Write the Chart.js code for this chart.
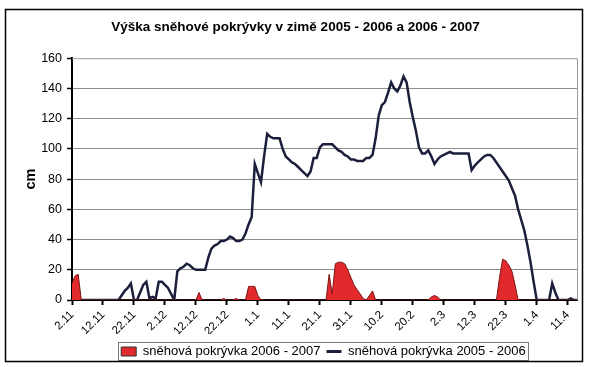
<!DOCTYPE html>
<html>
<head>
<meta charset="utf-8">
<script src="https://cdn.jsdelivr.net/npm/chart.js@4/dist/chart.umd.min.js"></script>
<style>
  body { margin: 0; background: #fff; }
</style>
</head>
<body>
<canvas id="myChart" width="590" height="367"></canvas>
<script>
// tick labels every 10 days, starting 2.11
var tickLabels = ['2.11', '12.11', '22.11', '2.12', '12.12', '22.12', '1.1', '11.1', '21.1',
  '31.1', '10.2', '20.2', '2.3', '12.3', '22.3', '1.4', '11.4'];

var seriesNames = ['sněhová pokrývka 2006 - 2007', 'sněhová pokrývka 2005 - 2006'];

// snow depth in cm, one value per day from 2.11
var snow0506 = [
  0, 0, 0, 0, 0, 0, 0, 0, 0, 0,
  0, 0, 0, 0, 0, 0, 3, 6, 8, 11,
  0, 0, 5, 10, 12, 1, 2, 1, 12, 12,
  10, 8, 4, 0, 19, 21, 22, 24, 23, 21,
  20, 20, 20, 20, 28, 34, 36, 37, 39, 39,
  40, 42, 41, 39, 39, 40, 44, 50, 55, 90,
  84, 78, 95, 110, 108, 107, 107, 107, 100, 95,
  93, 91, 90, 88, 86, 84, 82, 85, 94, 94,
  101, 103, 103, 103, 103, 101, 99, 98, 96, 95,
  93, 93, 92, 92, 92, 94, 94, 96, 107, 122,
  129, 131, 137, 144, 140, 138, 142, 148, 144, 131,
  121, 112, 101, 97, 97, 99, 95, 90, 93, 95,
  96, 97, 98, 97, 97, 97, 97, 97, 97, 86,
  89, 91, 93, 95, 96, 96, 94, 91, 88, 85,
  82, 79, 74, 69, 60, 53, 46, 36, 25, 12,
  0, 0, 0, 0, 0, 11, 5, 0, 0, 0,
  0, 1, 0, 0
];

var snow0607 = [
  11, 16, 17, 0, 0, 0, 0, 0, 0, 0,
  0, 0, 0, 0, 0, 0, 0, 0, 0, 0,
  0, 0, 0, 0, 0, 0, 0, 0, 0, 0,
  0, 0, 0, 0, 0, 0, 0, 0, 0, 0,
  0, 5, 0, 0, 0, 0, 0, 0, 0, 1,
  0, 0, 0, 1, 0, 0, 0, 9, 9, 9,
  3, 0, 0, 0, 0, 0, 0, 0, 0, 0,
  0, 0, 0, 0, 0, 0, 0, 0, 0, 0,
  0, 0, 0, 17, 4, 24, 25, 25, 24, 20,
  15, 10, 7, 4, 1, 0, 3, 6, 0, 0,
  0, 0, 0, 0, 0, 0, 0, 0, 0, 0,
  0, 0, 0, 0, 0, 0, 2, 3, 2, 0,
  0, 0, 0, 0, 0, 0, 0, 0, 0, 0,
  0, 0, 0, 0, 0, 0, 0, 0, 15, 27,
  26, 23, 19, 10, 0, 0, 0, 0, 0, 0,
  0, 0, 0, 0, 0, 0, 0, 0, 0, 0,
  0, 0, 0, 0
];

var days = [];
for (var i = 0; i < snow0506.length; i++) days.push(i);

var FONT = 'Liberation Sans, Arial, sans-serif';
var RED = '#e2292b';
var NAVY = '#1c1f3c';

// frame round the chart, plot area border and legend box
var framePlugin = {
  id: 'frame',
  afterLayout: function(chart) {
    // legend sits a bit right of centre and lower in the original
    var lg = chart.legend;
    lg.left += 28; lg.right += 28;
    lg.top += 5; lg.bottom += 5;
  },
  afterDraw: function(chart) {
    var ctx = chart.ctx;
    var a = chart.chartArea;
    ctx.save();
    ctx.strokeStyle = '#9a9a9a';
    ctx.lineWidth = 1;
    ctx.beginPath();
    ctx.moveTo(a.left, a.top + 0.5);
    ctx.lineTo(a.right + 0.5, a.top + 0.5);
    ctx.lineTo(a.right + 0.5, a.bottom);
    ctx.stroke();

    var boxes = chart.legend.legendHitBoxes;
    if (boxes && boxes.length) {
      var first = boxes[0], last = boxes[boxes.length - 1];
      var l = Math.round(first.left - 3) + 0.5;
      var r = Math.round(last.left + last.width + 2) + 0.5;
      var t = Math.round(first.top - 3) + 0.5;
      ctx.strokeStyle = '#777';
      ctx.strokeRect(l, t, r - l, first.height + 5);
    }

    ctx.strokeStyle = '#000';
    ctx.lineWidth = 1.5;
    ctx.strokeRect(5.5, 9.5, 577, 352);
    ctx.restore();
  }
};

var ctx = document.getElementById('myChart');
var myChart = new Chart(ctx, {
  type: 'line',
  data: {
    labels: days,
    datasets: [{
      label: seriesNames[0],
      data: snow0607,
      fill: 'origin',
      backgroundColor: RED,
      borderColor: '#7c1515',
      borderWidth: 1,
      pointRadius: 0,
      tension: 0
    }, {
      label: seriesNames[1],
      data: snow0506,
      fill: false,
      borderColor: NAVY,
      borderWidth: 2.5,
      pointRadius: 0,
      tension: 0
    }]
  },
  options: {
    responsive: false,
    animation: false,
    layout: { padding: { left: 14, right: 13, top: 0, bottom: 4 } },
    plugins: {
      title: {
        display: true,
        text: 'Výška sněhové pokrývky v zimě 2005 - 2006 a 2006 - 2007',
        color: '#000',
        font: { family: FONT, size: 13.5, weight: 'bold' },
        padding: { top: 19, bottom: 23 }
      },
      legend: {
        position: 'bottom',
        labels: {
          usePointStyle: true,
          pointStyleWidth: 15,
          boxHeight: 9,
          padding: 6,
          color: '#000',
          font: { family: FONT, size: 13 },
          generateLabels: function(chart) {
            return [
              { text: seriesNames[0], fillStyle: RED, strokeStyle: '#333', lineWidth: 1, pointStyle: 'rect', datasetIndex: 0 },
              { text: seriesNames[1], fillStyle: NAVY, strokeStyle: NAVY, lineWidth: 3, pointStyle: 'line', datasetIndex: 1 }
            ];
          }
        }
      },
      tooltip: { enabled: false }
    },
    scales: {
      x: {
        type: 'linear',
        min: 0,
        max: 163,
        grid: { drawOnChartArea: false, drawTicks: true, tickLength: 5, tickColor: '#000', tickWidth: 2 },
        border: { color: '#000', width: 2 },
        ticks: {
          stepSize: 10,
          includeBounds: false,
          autoSkip: false,
          minRotation: 45,
          maxRotation: 45,
          padding: 3,
          color: '#000',
          font: { family: FONT, size: 11.5 },
          callback: function(v) { return tickLabels[Math.round(v / 10)]; }
        },
        afterFit: function(s) { s.height = 34; }
      },
      y: {
        min: 0,
        max: 160,
        grid: {
          color: function(c) {
            return (c.tick.value === 0 || c.tick.value === 160) ? 'rgba(0,0,0,0)' : '#8c8c8c';
          },
          borderDash: [2, 2],
          tickLength: 5,
          tickColor: '#000',
          tickWidth: 1.5
        },
        border: { color: '#000', width: 2, dash: [] },
        ticks: {
          stepSize: 20,
          padding: 5,
          color: '#000',
          font: { family: FONT, size: 12.5 }
        },
        title: {
          display: true,
          text: 'cm',
          color: '#000',
          font: { family: FONT, size: 14.5, weight: 'bold' },
          padding: { top: 8, bottom: 0 }
        },
        afterFit: function(s) { s.width = 58; }
      }
    }
  },
  plugins: [framePlugin]
});
</script>
</body>
</html>
